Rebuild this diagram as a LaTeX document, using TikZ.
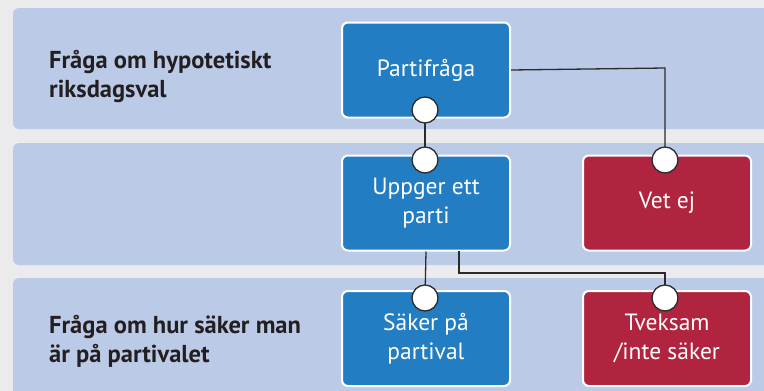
\documentclass[tikz,border=0pt]{standalone}
\usepackage{fontspec}
\setmainfont{PT Sans}
\definecolor{bgc}{HTML}{EBEBED}
\definecolor{panelc}{HTML}{BBCBE7}
\definecolor{bluebox}{HTML}{237DC3}
\definecolor{redbox}{HTML}{B0243F}
\definecolor{linec}{HTML}{2B2B2B}
\definecolor{labelc}{HTML}{231F20}
\tikzset{
  x=1pt, y=-1pt,
  panel/.style={fill=panelc, rounded corners=6pt},
  box/.style={draw=white, line width=2pt, rounded corners=6pt, minimum width=168pt, minimum height=95pt,
    text=white, align=center, font=\fontsize{23.5}{29}\selectfont, inner sep=0pt},
  bluebx/.style={box, fill=bluebox},
  redbx/.style={box, fill=redbox},
  dot/.style={circle, draw=linec, fill=white, line width=1.3pt, minimum size=26pt, inner sep=0pt},
  conn/.style={draw=linec, line width=1.3pt},
  lbl/.style={text=labelc, align=left, font=\bfseries\fontsize{24.5}{29}\selectfont, inner sep=0pt, anchor=base west}
}
\begin{document}
\begin{tikzpicture}
\useasboundingbox (0,0) rectangle (764,391);
\clip (0,0) rectangle (764,391);
\fill[bgc] (0,0) rectangle (764,391);
\fill[panel] (13,8) rectangle (790,129);
\fill[panel] (13,143) rectangle (790,265);
\fill[panel] (13,278) rectangle (790,420);

\node[lbl] (l1) at (49,97) {Fråga om hypotetiskt\\riksdagsval};
\node[lbl] (l3) at (49,362) {Fråga om hur säker man\\är på partivalet};

\node[bluebx] (parti) at (426,70) {Partifråga};
\node[bluebx] (uppger) at (426,203) {Uppger ett\\parti};
\node[redbx] (vetej) at (667,203) {Vet ej};
\node[bluebx] (saker) at (426,338.5) {Säker på\\partival};
\node[redbx] (tveksam) at (667,338.5) {Tveksam\\/inte säker};

\coordinate (fork) at (459,251);
\draw[conn] (parti.east) -- (665,68) -- (665,147);
\draw[conn] (425,110) -- (425,160);
\draw[conn] (uppger.south) -- (425,298);
\draw[conn] (fork) -- (459,273) -- (665,273) -- (665,298);

\node[dot] (d1) at (425,110) {};
\node[dot] (d2) at (425,160) {};
\node[dot] (d3) at (665,160) {};
\node[dot] (d4) at (425,298) {};
\node[dot] (d5) at (665,298) {};
\end{tikzpicture}
\end{document}
